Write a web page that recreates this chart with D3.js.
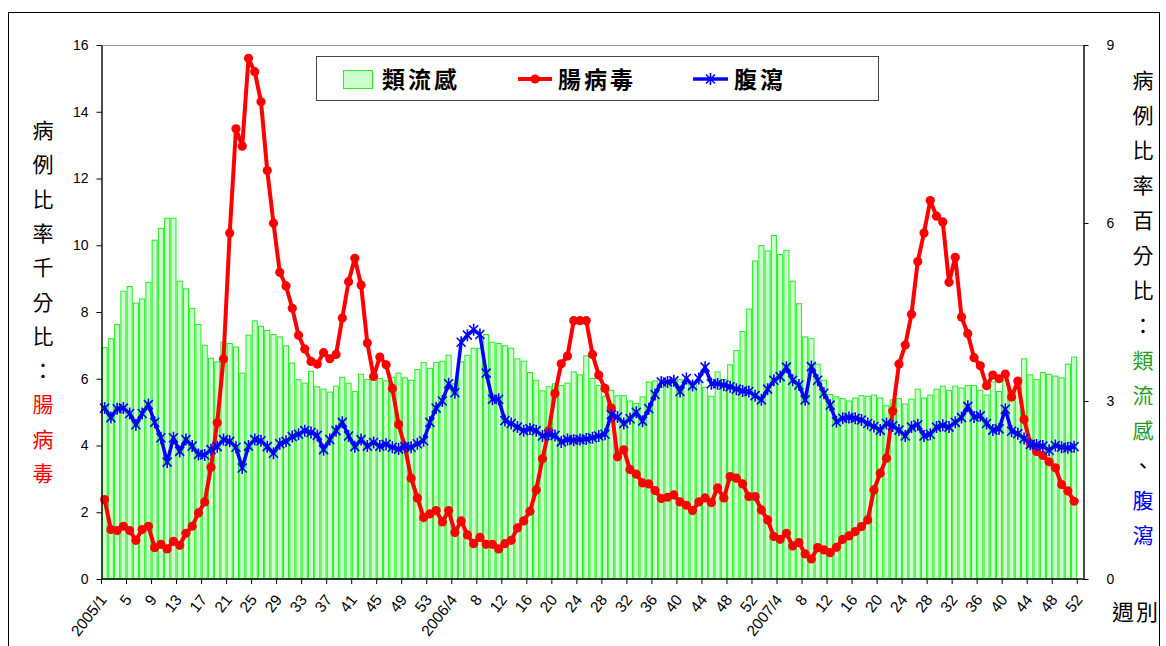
<!DOCTYPE html>
<html><head><meta charset="utf-8">
<script src="https://cdn.jsdelivr.net/npm/d3@7"></script>
<style>body{margin:0;background:#fff}svg{display:block}</style>
</head><body>
<svg id="chart" width="1166" height="646"></svg>
<script>
// ---- data ----
const yearWeeks = [[2005, 53], [2006, 52], [2007, 52]];
const xTickLabels = ["2005/1","5","9","13","17","21","25","29","33","37","41","45","49","53",
  "2006/4","8","12","16","20","24","28","32","36","40","44","48","52",
  "2007/4","8","12","16","20","24","28","32","36","40","44","48","52"];
const leftTicks = [0, 2, 4, 6, 8, 10, 12, 14, 16];
const rightTicks = [0, 3, 6, 9];
// 類流感 (percent, right axis)
const influenza = [
 3.90,4.05,4.29,4.85,4.93,4.65,4.72,5.00,5.71,5.91,6.08,6.08,5.02,4.89,4.56,4.29,3.94,3.72,3.66,3.99,3.97,3.91,3.47,4.11,4.35,4.26,
 4.19,4.12,4.08,3.93,3.64,3.36,3.30,3.50,3.24,3.20,3.15,3.25,3.40,3.30,3.16,3.45,3.36,3.38,3.38,3.34,3.40,3.47,3.39,3.35,3.53,3.65,
 3.55,3.65,3.67,3.77,3.29,3.66,3.77,3.89,3.89,4.12,3.99,3.97,3.93,3.89,3.71,3.67,3.48,3.35,3.17,3.24,3.29,3.26,3.30,3.49,3.44,
 3.76,3.38,3.26,3.08,3.18,3.09,3.09,3.00,2.96,3.07,3.32,3.34,3.23,3.29,3.35,3.36,3.29,3.23,3.32,3.23,3.08,3.49,3.36,3.61,3.85,4.17,4.55,
 5.36,5.62,5.53,5.79,5.47,5.54,5.02,4.64,4.08,4.05,3.62,3.35,3.11,3.07,3.04,3.00,3.05,3.09,3.08,3.10,3.05,2.92,3.02,3.04,2.95,
 3.03,3.20,3.05,3.10,3.20,3.25,3.18,3.25,3.22,3.26,3.26,3.18,3.10,3.32,3.16,3.35,3.17,3.23,3.71,3.44,3.36,3.48,3.45,3.42,3.39,3.62,3.74];
// 腸病毒 (per mille, left axis)
const enterovirus = [
 2.38,1.48,1.45,1.58,1.45,1.16,1.48,1.58,0.94,1.04,0.90,1.13,1.01,1.37,1.58,1.98,2.31,3.35,4.68,6.59,10.37,13.49,12.97,15.6,15.2,14.3,12.24,
 10.66,9.19,8.78,8.11,7.30,6.89,6.52,6.44,6.78,6.60,6.73,7.82,8.91,9.61,8.81,7.07,6.07,6.65,6.42,5.71,4.63,3.97,3.02,2.43,1.84,
 1.95,2.05,1.71,2.05,1.39,1.74,1.32,1.06,1.25,1.04,1.04,0.90,1.06,1.16,1.53,1.74,2.03,2.67,3.6,4.44,5.56,6.45,6.68,7.74,7.74,7.74,
 6.73,6.11,5.71,5.12,3.66,3.87,3.28,3.14,2.88,2.85,2.65,2.41,2.45,2.52,2.31,2.21,2.05,2.31,2.43,2.29,2.73,2.43,3.07,3.02,
 2.85,2.47,2.47,2.07,1.77,1.27,1.19,1.37,0.99,1.09,0.75,0.60,0.94,0.87,0.79,0.95,1.19,1.29,1.42,1.57,1.77,2.67,3.17,3.62,5.03,6.44,7.01,
 7.93,9.51,10.37,11.34,10.87,10.70,8.89,9.64,7.85,7.35,6.63,6.39,5.79,6.11,6.0,6.14,5.45,5.93,4.78,4.06,3.82,3.7,3.51,3.33,2.83,2.64,2.33];
// 腹瀉 (percent, right axis)
const diarrhea = [
 2.88,2.72,2.87,2.88,2.79,2.60,2.79,2.94,2.64,2.38,1.97,2.38,2.15,2.35,2.24,2.10,2.09,2.18,2.23,2.35,2.32,2.22,1.87,2.24,2.35,2.33,
 2.23,2.12,2.28,2.32,2.40,2.44,2.50,2.47,2.42,2.18,2.35,2.50,2.64,2.41,2.23,2.35,2.24,2.30,2.24,2.27,2.22,2.19,2.23,2.22,2.28,2.33,
 2.64,2.88,3.00,3.29,3.14,3.99,4.11,4.20,4.12,3.47,3.03,3.03,2.67,2.62,2.56,2.50,2.53,2.50,2.41,2.44,2.42,2.31,2.35,2.34,2.35,
 2.36,2.38,2.41,2.44,2.77,2.73,2.62,2.70,2.81,2.66,2.87,3.11,3.32,3.32,3.34,3.16,3.38,3.26,3.38,3.57,3.29,3.29,
 3.27,3.24,3.20,3.17,3.16,3.09,3.02,3.20,3.35,3.41,3.57,3.35,3.27,3.02,3.58,3.35,3.13,2.93,2.65,2.71,2.72,2.71,2.68,2.62,2.57,2.51,2.62,2.58,2.51,2.41,
 2.56,2.60,2.41,2.44,2.56,2.59,2.56,2.64,2.72,2.91,2.73,2.75,2.62,2.51,2.53,2.86,2.49,2.45,2.37,2.27,2.26,2.24,2.17,2.25,2.22,2.21,2.23];
const seriesNames = ["類流感", "腸病毒", "腹瀉"];
const leftTitle = [["病例比率千分比：", "#000"], ["腸病毒", "#ff0000"]];
const rightTitle = [["病例比率百分比：", "#000"], ["類流感", "#1f9e1f"], ["、", "#000"], ["腹瀉", "#0000ff"]];

// ---- build ----
const categories = [];
yearWeeks.forEach(([y, n]) => { for (let w = 1; w <= n; w++) categories.push(y + "/" + w); });

const svg = d3.select("#chart");
const M = {left: 101.5, right: 1083.5, top: 45, bottom: 579};
const x = d3.scaleBand().domain(categories).range([M.left, M.right]).padding(0);
const yL = d3.scaleLinear().domain([0, 16]).range([M.bottom, M.top]);
const yR = d3.scaleLinear().domain([0, 9]).range([M.bottom, M.top]);
const bw = x.bandwidth();
const cx = i => x(categories[i]) + bw / 2;
const NUM = "'Liberation Sans', Arial, sans-serif";
const CJK = "'Noto Sans CJK TC', 'Noto Sans CJK SC', sans-serif";

// outer frame
svg.append("rect").attr("x", 8.5).attr("y", 12.5).attr("width", 1151).attr("height", 700)
  .attr("fill", "none").attr("stroke", "#000").attr("stroke-width", 1);

// plot top border
svg.append("line").attr("x1", M.left).attr("x2", M.right).attr("y1", M.top + 0.5).attr("y2", M.top + 0.5)
  .attr("stroke", "#9a9a9a").attr("stroke-width", 1);

// bars
svg.append("g").selectAll("rect").data(influenza).join("rect")
  .attr("x", (d, i) => x(categories[i]) + 0.6)
  .attr("width", bw - 1.2)
  .attr("y", d => yR(d))
  .attr("height", d => M.bottom - yR(d))
  .attr("fill", "#ccffcc").attr("stroke", "#22ee22").attr("stroke-width", 1);

// red line
const lineL = d3.line().x((d, i) => cx(i)).y(d => yL(d));
svg.append("path").datum(enterovirus).attr("d", lineL)
  .attr("fill", "none").attr("stroke", "#ff0000").attr("stroke-width", 4).attr("stroke-linejoin", "round");
svg.append("g").selectAll("circle").data(enterovirus).join("circle")
  .attr("cx", (d, i) => cx(i)).attr("cy", d => yL(d)).attr("r", 4.6).attr("fill", "#ff0000");

// blue line
const lineR = d3.line().x((d, i) => cx(i)).y(d => yR(d));
svg.append("path").datum(diarrhea).attr("d", lineR)
  .attr("fill", "none").attr("stroke", "#0000ff").attr("stroke-width", 3.5).attr("stroke-linejoin", "round");
const star = "M-4.5,-4.5L4.5,4.5M-4.5,4.5L4.5,-4.5M0,-6L0,6";
svg.append("g").selectAll("path").data(diarrhea).join("path")
  .attr("transform", (d, i) => `translate(${cx(i)},${yR(d)})`)
  .attr("d", star).attr("stroke", "#0000ff").attr("stroke-width", 1.6).attr("fill", "none");

// left axis
const gL = svg.append("g").attr("transform", `translate(${M.left},0)`)
  .call(d3.axisLeft(yL).tickValues(leftTicks).tickSize(5).tickPadding(8).tickSizeOuter(0));
gL.selectAll("text").attr("font-family", NUM).attr("font-size", 14).attr("fill", "#000");
gL.selectAll("line,path").attr("stroke", "#000");
gL.select(".domain").attr("stroke-width", 1.4);

// right axis
const gR = svg.append("g").attr("transform", `translate(${M.right},0)`)
  .call(d3.axisRight(yR).tickValues(rightTicks).tickSize(5).tickPadding(18).tickSizeOuter(0));
gR.selectAll("text").attr("font-family", NUM).attr("font-size", 14).attr("fill", "#000");
gR.selectAll("line,path").attr("stroke", "#000");
gR.select(".domain").attr("stroke-width", 1.4);

// bottom axis
svg.append("line").attr("x1", M.left).attr("x2", M.right).attr("y1", M.bottom).attr("y2", M.bottom)
  .attr("stroke", "#000").attr("stroke-width", 1.6);
const tickIdx = d3.range(0, categories.length, 4);
svg.append("g").selectAll("line").data(tickIdx).join("line")
  .attr("x1", i => x(categories[i])).attr("x2", i => x(categories[i]))
  .attr("y1", M.bottom).attr("y2", M.bottom + 5).attr("stroke", "#000").attr("stroke-width", 1);
svg.append("g").selectAll("text").data(xTickLabels).join("text")
  .attr("transform", (d, k) => `translate(${cx(k * 4) + 3},${M.bottom + 21}) rotate(-52)`)
  .attr("text-anchor", "end").attr("font-family", NUM).attr("font-size", 15.5).attr("fill", "#000")
  .text(d => d);

// vertical titles
function vTitle(parts, xPos, y0, step, size) {
  let k = 0;
  parts.forEach(([txt, col]) => {
    for (const ch of txt) {
      svg.append("text").attr("x", xPos).attr("y", y0 + k * step)
        .attr("text-anchor", "middle").attr("dominant-baseline", "central")
        .attr("font-family", CJK).attr("font-size", size).attr("fill", col).text(ch);
      k++;
    }
  });
}
vTitle(leftTitle, 43, 129, 34.3, 21);
vTitle(rightTitle, 1143, 79, 35.0, 21);

svg.append("text").attr("x", 1136).attr("y", 620).attr("text-anchor", "middle")
  .attr("font-family", CJK).attr("font-size", 22).attr("letter-spacing", 2).attr("fill", "#000").text("週別");

// legend
const lg = svg.append("g");
lg.append("rect").attr("x", 316.5).attr("y", 56.5).attr("width", 562).attr("height", 44)
  .attr("fill", "#fff").attr("stroke", "#444").attr("stroke-width", 1);
lg.append("rect").attr("x", 343.5).attr("y", 70.5).attr("width", 29).attr("height", 18)
  .attr("fill", "#ccffcc").attr("stroke", "#22ee22");
lg.append("line").attr("x1", 518).attr("x2", 552).attr("y1", 79).attr("y2", 79)
  .attr("stroke", "#ff0000").attr("stroke-width", 4);
lg.append("circle").attr("cx", 535).attr("cy", 79).attr("r", 4.6).attr("fill", "#ff0000");
lg.append("line").attr("x1", 693).attr("x2", 728).attr("y1", 79).attr("y2", 79)
  .attr("stroke", "#0000ff").attr("stroke-width", 3.5);
lg.append("path").attr("transform", "translate(710.5,79)").attr("d", star)
  .attr("stroke", "#0000ff").attr("stroke-width", 1.6).attr("fill", "none");
const legX = [382, 558, 734];
seriesNames.forEach((n, i) => {
  lg.append("text").attr("x", legX[i]).attr("y", 88).attr("font-family", CJK)
    .attr("font-size", 23).attr("font-weight", "bold").attr("letter-spacing", 3).attr("fill", "#000").text(n);
});
</script>
</body></html>
